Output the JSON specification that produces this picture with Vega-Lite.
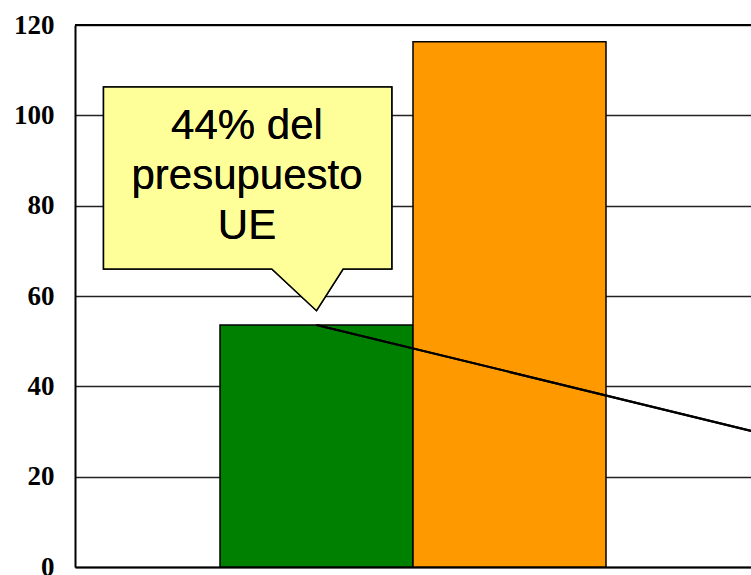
{
  "$schema": "https://vega.github.io/schema/vega-lite/v6.json",
  "autosize": "none",
  "width": 676,
  "height": 542,
  "padding": {"left": 75, "top": 25, "right": 0, "bottom": 8},
  "background": "white",
  "config": {"view": {"stroke": null}},
  "data": {"values": [
    {"serie": "Serie 1", "valor": 53.6},
    {"serie": "Serie 2", "valor": 116.3}
  ]},
  "layer": [
    {
      "mark": {"type": "bar", "stroke": "black", "strokeWidth": 1.5},
      "encoding": {
        "x": {"field": "serie", "type": "nominal",
          "scale": {"domain": ["Serie 1", "Serie 2"], "paddingInner": 0, "paddingOuter": 0.7513},
          "axis": {"labels": false, "ticks": false, "title": null, "domainColor": "black", "domainWidth": 2}},
        "y": {"field": "valor", "type": "quantitative",
          "scale": {"domain": [0, 120], "nice": false},
          "axis": {"values": [0, 20, 40, 60, 80, 100, 120], "title": null, "ticks": false, "tickSize": 0,
            "labelPadding": 21, "labelFont": "Liberation Serif", "labelFontWeight": "bold", "labelFontSize": 27,
            "labelColor": "black", "domainColor": "black", "domainWidth": 2,
            "grid": true, "gridColor": "#222222", "gridWidth": 1.3, "gridOpacity": 1}},
        "color": {"field": "serie", "type": "nominal",
          "scale": {"domain": ["Serie 1", "Serie 2"], "range": ["#008000", "#FF9900"]}, "legend": null}
      }
    },
    {
      "mark": {"type": "rule", "color": "black", "strokeWidth": 2},
      "encoding": {"y": {"datum": 120}}
    },
    {
      "mark": {"type": "point", "shape": "M0,0L600,146.3", "size": 4, "filled": false, "stroke": "black", "strokeWidth": 2, "opacity": 1, "clip": true},
      "encoding": {"x": {"datum": "Serie 1"}, "y": {"datum": 53.6}}
    },
    {
      "mark": {"type": "point", "shape": "M0,0L26.6,-41.7L75.3,-41.7L75.3,-223.7L-213,-223.7L-213,-41.7L-44.7,-41.7Z", "size": 4, "filled": true, "fill": "#FFFF99", "stroke": "black", "strokeWidth": 1.5, "opacity": 1},
      "encoding": {"x": {"datum": "Serie 1"}, "y": {"datum": 56.75}}
    },
    {
      "mark": {"type": "text", "text": ["44% del", "presupuesto", "UE"], "font": "Liberation Sans", "fontSize": 42, "lineHeight": 50, "align": "center", "baseline": "alphabetic", "dx": -69.5, "color": "black"},
      "encoding": {"x": {"datum": "Serie 1"}, "y": {"datum": 94.7}}
    }
  ]
}
